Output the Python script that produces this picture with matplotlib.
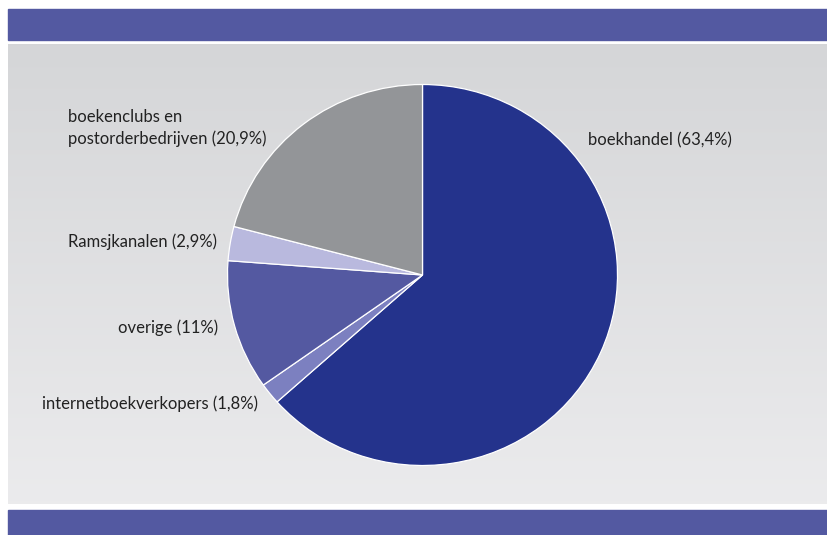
import numpy as np
import matplotlib.pyplot as plt

# aandelen per verkoopkanaal (met de klok mee vanaf boven)
labels = ['boekhandel (63,4%)', 'internetboekverkopers (1,8%)', 'overige (11%)',
          'Ramsjkanalen (2,9%)', 'boekenclubs en\npostorderbedrijven (20,9%)']
shares = [63.4, 1.8, 11.0, 2.9, 20.9]
colors = ['#24338c', '#7c80c0', '#5459a1', '#b9b9de', '#939598']

W, H = 827, 535
fig = plt.figure(figsize=(W / 100, H / 100), dpi=100)

# achtergrond met banden en grijs verloop
bg = fig.add_axes([0, 0, 1, 1])
bg.set_xlim(0, W)
bg.set_ylim(H, 0)
bg.axis('off')
grad = np.linspace(0, 1, 256).reshape(-1, 1)
c0 = np.array([0.835, 0.839, 0.847])
c1 = np.array([0.922, 0.922, 0.929])
img = c0 + grad[..., None] * (c1 - c0)
bg.imshow(img, extent=[8, W, 504, 44], aspect='auto')
bg.add_patch(plt.Rectangle((8, 9), W - 8, 31, color='#5359a1'))
bg.add_patch(plt.Rectangle((8, 510), W - 8, 30, color='#5359a1'))

# taartdiagram (iets breder dan hoog, zoals in het origineel)
cx, cy, rx, ry = 422.5, 275, 195, 190.5
ax = fig.add_axes([(cx - rx) / W, (H - cy - ry) / H, 2 * rx / W, 2 * ry / H])
ax.pie(shares, colors=colors, startangle=90, counterclock=False, radius=1,
       wedgeprops=dict(edgecolor='white', linewidth=0.9))
ax.set_xlim(-1, 1)
ax.set_ylim(-1, 1)
ax.set_aspect('auto')
ax.axis('off')

font = dict(family=['Lato', 'DejaVu Sans'], fontsize=12, color='#222222')
bg.text(588, 140, labels[0], ha='left', va='center', **font)
bg.text(42, 404, labels[1], ha='left', va='center', **font)
bg.text(218, 328, labels[2], ha='right', va='center', **font)
bg.text(217, 242, labels[3], ha='right', va='center', **font)
bg.text(68, 128, labels[4], ha='left', va='center', linespacing=1.45, **font)

fig.savefig('out.png', dpi=100)
